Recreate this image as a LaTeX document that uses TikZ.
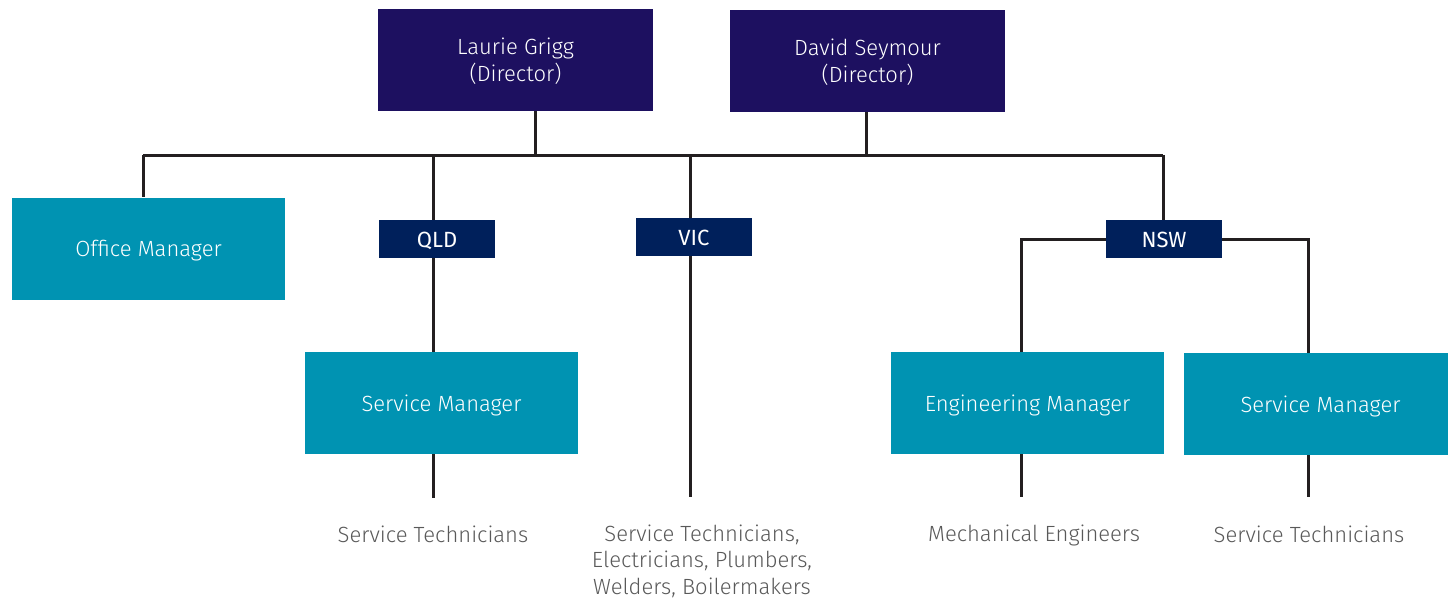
\documentclass[tikz,border=0pt]{standalone}
\usepackage{fontspec}
\setmainfont{Fira Sans}[UprightFont=* Light]
\newfontfamily\regionfont{Fira Sans}
\usetikzlibrary{positioning}
\definecolor{dirblue}{HTML}{1D1060}
\definecolor{regblue}{HTML}{00205B}
\definecolor{mgrteal}{HTML}{0093B2}
\definecolor{staffgray}{HTML}{595959}
\definecolor{linegray}{HTML}{231F20}
\begin{document}
\begin{tikzpicture}[x=1pt,y=-1pt,
    director/.style={fill=dirblue,text=white,minimum width=275pt,minimum height=102pt,
      inner sep=0pt,text depth=0pt,align=center,font=\fontsize{22}{27}\selectfont},
    manager/.style={fill=mgrteal,text=white,minimum width=273pt,minimum height=102pt,
      inner sep=0pt,text depth=0pt,font=\fontsize{22}{27}\selectfont},
    region/.style={fill=regblue,text=white,minimum width=116pt,minimum height=38pt,
      inner sep=0pt,text height=17pt,text depth=0pt,font=\regionfont\fontsize{22}{27}\selectfont},
    staff/.style={text=staffgray,align=center,font=\fontsize{22}{26.5}\selectfont},
    link/.style={draw=linegray,line width=3pt}]
  \useasboundingbox (0,0) rectangle (1448,600);

  % directors
  \node[director] (laurie) at (515.5,60) {Laurie Grigg\\(Director)};
  \node[director] (david) at (867.5,60.5) {David Seymour\\(Director)};

  % offices and regions
  \node[manager] (office) at (148.5,248.5) {Office Manager};
  \node[region] (qld) at (437,239) {QLD};
  \node[region] (vic) at (694,237) {VIC};
  \node[region] (nsw) at (1164,239) {NSW};

  % managers
  \node[manager] (qldsm) at (441.5,403) {Service Manager};
  \node[manager] (engm) at (1027.5,403) {Engineering Manager};
  \node[manager] (nswsm) at (1320.5,404) {Service Manager};

  % staff
  \node[staff] (qldst) at (433,534) {Service Technicians};
  \node[staff] (vicst) at (702,561) {Service Technicians,\\Electricians, Plumbers,\\Welders, Boilermakers};
  \node[staff] (mech) at (1034,535) {Mechanical Engineers};
  \node[staff] (nswst) at (1309,534) {Service Technicians};

  % bus and drops
  \coordinate (om) at (143,155);
  \coordinate (lg) at (535,155);
  \coordinate (ds) at (866,155);
  \coordinate (q) at (433,155);
  \coordinate (v) at (690,155);
  \coordinate (n) at (1163,155);
  \coordinate (qend) at (433,498);
  \coordinate (vend) at (690,497);
  \coordinate (eend) at (1021,497);
  \coordinate (send) at (1308,497);

  \draw[link] (om) -- (n);
  \draw[link] (laurie.south -| lg) -- (lg);
  \draw[link] (david.south -| ds) -- (ds);
  \draw[link] (om) -- (office.north -| om);

  \draw[link] (q) -- (qld.north -| q);
  \draw[link] (qld.south -| q) -- (qldsm.north -| q);
  \draw[link] (qldsm.south -| qend) -- (qend);

  \draw[link] (v) -- (vic.north -| v);
  \draw[link] (vic.south -| v) -- (vend);

  \draw[link] (n) -- (nsw.north -| n);
  \draw[link] (nsw.west) -| (engm.north -| eend);
  \draw[link] (nsw.east) -| (nswsm.north -| send);
  \draw[link] (engm.south -| eend) -- (eend);
  \draw[link] (nswsm.south -| send) -- (send);
\end{tikzpicture}
\end{document}
